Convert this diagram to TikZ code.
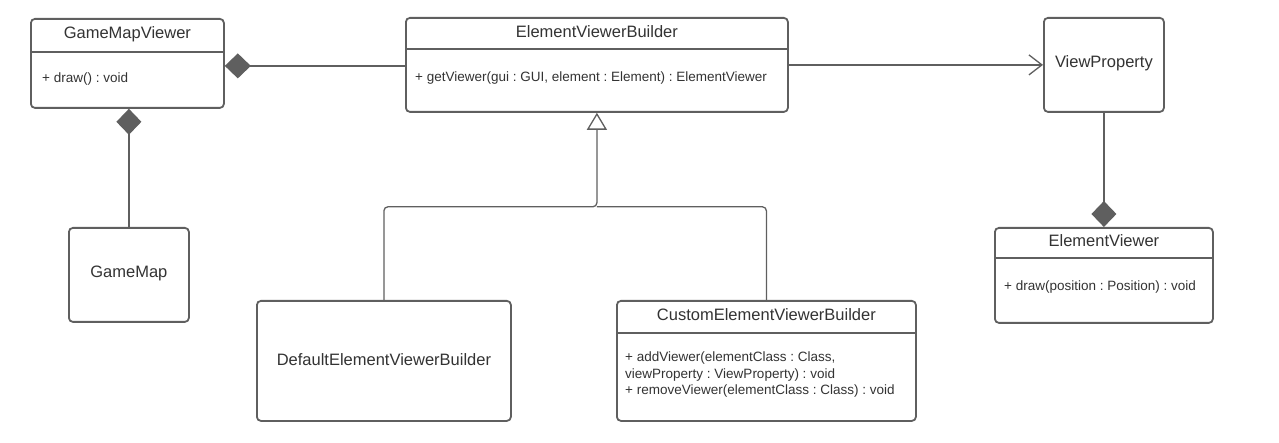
\documentclass[tikz,border=0pt]{standalone}
\usepackage{fontspec}
\setmainfont{Liberation Sans}
\usetikzlibrary{arrows.meta}
\definecolor{ln}{HTML}{5F5F5F}
\definecolor{tx}{HTML}{333333}
\frenchspacing
\tikzset{
  cls/.style={draw=ln, line width=1.8pt, rounded corners=4pt, inner sep=0pt, anchor=north west, fill=white},
  ttl/.style={font=\fontsize{16.5}{19}\selectfont, text=tx, inner sep=0pt},
  mth/.style={font=\fontsize{13.5}{16.5}\selectfont, text=tx, inner sep=0pt, anchor=west, align=left},
  divider/.style={draw=ln, line width=1.8pt},
  conn/.style={draw=ln, line width=1.3pt},
  comp/.style={conn, {Diamond[length=26pt,width=25pt,fill=ln]}-},
  compend/.style={conn, -{Diamond[length=26pt,width=25pt,fill=ln]}},
  assoc/.style={conn, -{Straight Barb[length=13pt,width=20pt,line width=1.3pt]}},
  gen/.style={conn, rounded corners=4pt, -{Triangle[open,length=17pt,width=20pt,fill=white]}},
}
\begin{document}
\begin{tikzpicture}[x=1pt,y=-1pt]
\useasboundingbox (0,0) rectangle (1279,443);

% GameMapViewer
\node[cls, minimum width=193pt, minimum height=89pt] (gmv) at (30,18) {};
\draw[divider] ([yshift=-34pt]gmv.north west) -- ([yshift=-34pt]gmv.north east);
\node[ttl] (gmvT) at ([yshift=-16pt]gmv.north) {GameMapViewer};
\node[mth] (gmvM) at ([xshift=12pt,yshift=-61pt]gmv.north west) {+ draw() : void};

% ElementViewerBuilder
\node[cls, minimum width=382pt, minimum height=94pt] (evb) at (405,17) {};
\draw[divider] ([yshift=-32pt]evb.north west) -- ([yshift=-32pt]evb.north east);
\node[ttl] (evbT) at ([yshift=-15pt]evb.north) {ElementViewerBuilder};
\node[mth] (evbM) at ([xshift=10pt,yshift=-61pt]evb.north west) {+ getViewer(gui : GUI, element : Element) : ElementViewer};

% ViewProperty
\node[cls, minimum width=120pt, minimum height=94pt] (vp) at (1043,17) {};
\node[ttl] (vpT) at ([yshift=1.5pt]vp.center) {ViewProperty};

% GameMap
\node[cls, minimum width=120pt, minimum height=94pt] (gm) at (68,227) {};
\node[ttl] (gmT) at ([yshift=1pt]gm.center) {GameMap};

% ElementViewer
\node[cls, minimum width=218pt, minimum height=95pt] (ev) at (994,227) {};
\draw[divider] ([yshift=-31pt]ev.north west) -- ([yshift=-31pt]ev.north east);
\node[ttl] (evT) at ([yshift=-14pt]ev.north) {ElementViewer};
\node[mth] (evM) at ([xshift=10pt,yshift=-60pt]ev.north west) {+ draw(position : Position) : void};

% DefaultElementViewerBuilder
\node[cls, minimum width=254pt, minimum height=120pt] (def) at (256,300) {};
\node[ttl] (defT) at ([yshift=1pt]def.center) {DefaultElementViewerBuilder};

% CustomElementViewerBuilder
\node[cls, minimum width=299pt, minimum height=120pt] (cus) at (616,300) {};
\draw[divider] ([yshift=-33pt]cus.north west) -- ([yshift=-33pt]cus.north east);
\node[ttl] (cusT) at ([yshift=-14.5pt]cus.north) {CustomElementViewerBuilder};
\node[mth, anchor=north west] (cusM) at ([xshift=9pt,yshift=-52pt]cus.north west) {+ addViewer(elementClass : Class,\\viewProperty : ViewProperty) : void\\+ removeViewer(elementClass : Class) : void};

% connectors
\draw[comp] ([yshift=-2.5pt]gmv.east) -- ([yshift=-1pt]evb.west);
\draw[comp] (gmv.south -| gm.north) -- (gm.north);
\draw[assoc] (evb.east) -- (vp.west);
\draw[compend] (vp.south) -- (ev.north);
\coordinate (j) at ([yshift=-94pt]evb.south);
\draw[gen] (def.north) |- (j) -- (evb.south);
\draw[conn, rounded corners=4pt] (cus.north) |- (j);
\end{tikzpicture}
\end{document}
